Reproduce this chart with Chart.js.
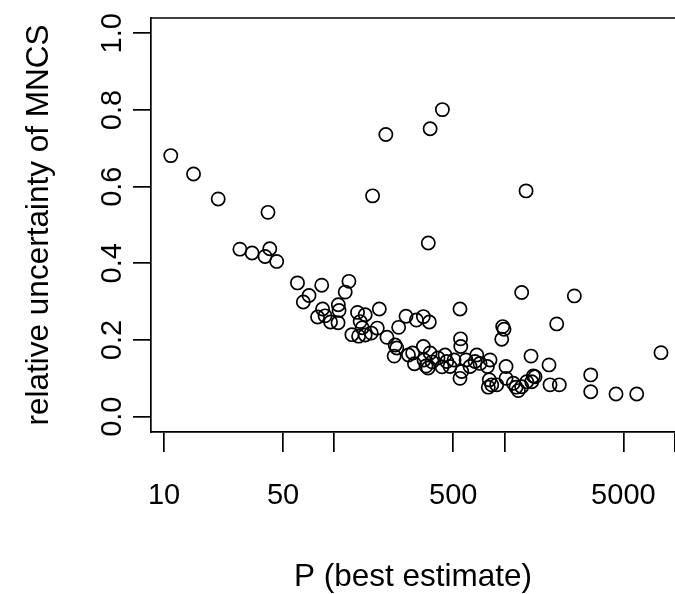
<!DOCTYPE html>
<html><head><meta charset="utf-8">
<script src="https://cdn.jsdelivr.net/npm/chart.js@4/dist/chart.umd.min.js"></script>
<style>html,body{margin:0;padding:0;background:#fff;overflow:hidden}canvas{display:block}</style>
</head><body>
<canvas id="c" width="675" height="594"></canvas>
<script>
// P (best estimate) for each point
const pEstimate = [
  10.95, 14.9, 20.8, 40.8, 27.9, 32.9, 41.8, 39.2, 45.9, 168,
  201, 432, 366, 1340, 357, 60.8, 84.4, 122, 116, 71.1,
  65.8, 105.7, 106.7, 85.4, 88.3, 79.8, 95.1, 105.3, 137, 152,
  184, 142, 146, 127, 139, 152, 165, 179, 204, 239,
  264, 304, 334, 362, 228, 233, 225, 273, 289, 296,
  548, 552, 554, 977, 995, 964, 1263, 2575, 2029, 8318,
  1433, 1828, 1478, 1352, 1263, 1853, 2102, 3214, 3214, 4526,
  5990, 334, 366, 448, 458, 479, 561, 548, 628, 688,
  672, 719, 823, 794, 815, 842, 804, 901, 1022, 1022,
  1128, 1170, 1207, 1447, 1513, 337, 346, 376, 356, 407,
  430, 506, 595
];
// relative uncertainty of MNCS for each point
const relUncertainty = [
  0.681, 0.633, 0.568, 0.533, 0.437, 0.427, 0.438, 0.418, 0.405, 0.576,
  0.736, 0.801, 0.751, 0.589, 0.453, 0.349, 0.343, 0.353, 0.325, 0.316,
  0.299, 0.292, 0.277, 0.281, 0.263, 0.260, 0.247, 0.245, 0.272, 0.266,
  0.281, 0.248, 0.232, 0.214, 0.210, 0.213, 0.218, 0.231, 0.207, 0.233,
  0.262, 0.252, 0.261, 0.247, 0.187, 0.179, 0.158, 0.161, 0.166, 0.138,
  0.281, 0.203, 0.183, 0.235, 0.228, 0.202, 0.324, 0.315, 0.242, 0.167,
  0.158, 0.135, 0.106, 0.091, 0.078, 0.083, 0.083, 0.109, 0.065, 0.059,
  0.059, 0.183, 0.166, 0.161, 0.144, 0.131, 0.118, 0.100, 0.131, 0.161,
  0.144, 0.139, 0.148, 0.131, 0.096, 0.083, 0.077, 0.083, 0.131, 0.100,
  0.087, 0.077, 0.068, 0.091, 0.104, 0.148, 0.132, 0.143, 0.127, 0.153,
  0.130, 0.148, 0.148
];
const xTickValues = [10, 50, 100, 500, 1000, 5000, 10000];
const xTickLabels = ['10', '50', '', '500', '', '5000', ''];
const yTickValues = [0, 0.2, 0.4, 0.6, 0.8, 1.0];
const yTickLabels = ['0.0', '0.2', '0.4', '0.6', '0.8', '1.0'];
const xTitle = 'P (best estimate)';
const yTitle = 'relative uncertainty of MNCS';

const FONT = '"Liberation Sans", Arial, Helvetica, sans-serif';
const TICK_SIZE = 29;
const TITLE_SIZE = 31.5;
const LW = 1.7;

const points = pEstimate.map((p, i) => ({x: p, y: relUncertainty[i]}));

const boxPlugin = {
  id: 'box',
  afterDraw(chart) {
    const {ctx, chartArea: a} = chart;
    ctx.save();
    ctx.strokeStyle = '#000';
    ctx.lineWidth = LW;
    ctx.beginPath();
    ctx.moveTo(a.left - LW / 2, a.top);
    ctx.lineTo(a.right + 10, a.top);
    ctx.stroke();
    ctx.restore();
  }
};

const yLabelPlugin = {
  id: 'yLabels',
  afterDraw(chart) {
    const ctx = chart.ctx, ys = chart.scales.y;
    ctx.save();
    ctx.font = TICK_SIZE + 'px ' + FONT;
    ctx.fillStyle = '#000';
    ctx.textAlign = 'center';
    ctx.textBaseline = 'middle';
    yTickValues.forEach((v, i) => {
      const py = ys.getPixelForValue(v);
      ctx.save();
      ctx.translate(ys.right - 38, py);
      ctx.rotate(-Math.PI / 2);
      ctx.fillText(yTickLabels[i], 0, 0);
      ctx.restore();
    });
    ctx.restore();
  }
};

new Chart(document.getElementById('c').getContext('2d'), {
  type: 'scatter',
  data: {
    datasets: [{
      data: points,
      pointStyle: 'circle',
      pointRadius: 6.6,
      pointHoverRadius: 6.6,
      pointBorderWidth: LW,
      pointBorderColor: '#000',
      pointBackgroundColor: 'rgba(0,0,0,0)',
      showLine: false
    }]
  },
  options: {
    responsive: false,
    animation: false,
    devicePixelRatio: 1,
    events: [],
    layout: {autoPadding: false, padding: {top: 18, left: 0, right: 0, bottom: 0}},
    plugins: {legend: {display: false}, tooltip: {enabled: false}},
    scales: {
      x: {
        type: 'logarithmic',
        position: 'bottom',
        min: 8.38,
        max: 10053,
        afterBuildTicks: s => { s.ticks = xTickValues.map(v => ({value: v})); },
        afterFit: s => { s.height = 162; s.paddingLeft = 0; s.paddingRight = 0; },
        ticks: {
          autoSkip: false, maxRotation: 0, minRotation: 0, padding: 27,
          color: '#000', font: {family: FONT, size: TICK_SIZE},
          callback: (v, i) => xTickLabels[i]
        },
        grid: {display: true, drawOnChartArea: false, drawTicks: true, tickLength: 20, color: '#000', lineWidth: LW},
        border: {display: true, color: '#000', width: LW},
        title: {display: true, text: xTitle, color: '#000', font: {family: FONT, size: TITLE_SIZE}, padding: {top: 0, bottom: -2}}
      },
      y: {
        type: 'linear',
        position: 'left',
        min: -0.04,
        max: 1.04,
        afterBuildTicks: s => { s.ticks = yTickValues.map(v => ({value: v})); },
        afterFit: s => { s.width = 151; s.paddingTop = 0; s.paddingBottom = 0; },
        ticks: {display: false},
        grid: {display: true, drawOnChartArea: false, drawTicks: true, tickLength: 18, color: '#000', lineWidth: LW},
        border: {display: true, color: '#000', width: LW},
        title: {display: true, text: yTitle, color: '#000', font: {family: FONT, size: TITLE_SIZE}, padding: {top: 20, bottom: 0}}
      }
    }
  },
  plugins: [boxPlugin, yLabelPlugin]
});
</script>
</body></html>
